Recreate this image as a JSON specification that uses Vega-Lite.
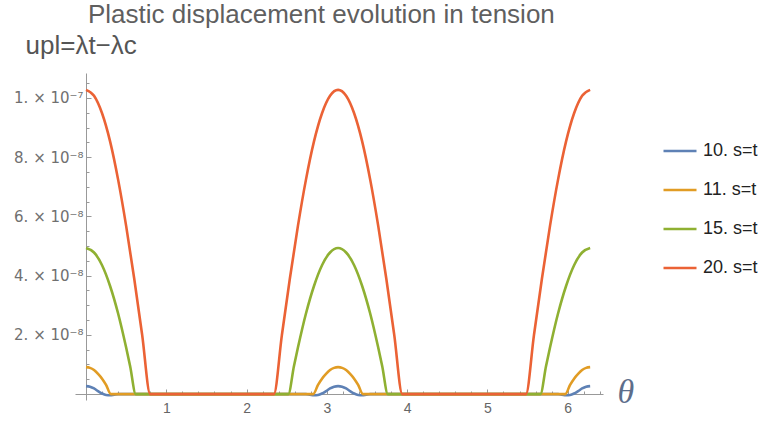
{
  "$schema": "https://vega.github.io/schema/vega-lite/v6.json",
  "width": 528,
  "height": 327,
  "autosize": "none",
  "padding": {"left": 75, "top": 73, "right": 174, "bottom": 23},
  "background": "white",
  "config": {"view": {"stroke": null}},
  "title": {
    "text": "Plastic displacement evolution in tension",
    "anchor": "start",
    "frame": "group",
    "dx": 13,
    "fontSize": 26,
    "font": "Liberation Sans",
    "fontWeight": "normal",
    "color": "#5f5f5f"
  },
  "data": {
    "values": [
      {"theta": 0, "upl": 2.7e-9, "s": "10. s=t"},
      {"theta": 0.05, "upl": 2.5e-9, "s": "10. s=t"},
      {"theta": 0.1, "upl": 1.9e-9, "s": "10. s=t"},
      {"theta": 0.15, "upl": 1.0e-9, "s": "10. s=t"},
      {"theta": 0.2, "upl": 2e-10, "s": "10. s=t"},
      {"theta": 0.25, "upl": -3e-10, "s": "10. s=t"},
      {"theta": 0.3, "upl": -4e-10, "s": "10. s=t"},
      {"theta": 0.35, "upl": -2e-10, "s": "10. s=t"},
      {"theta": 0.4, "upl": 0, "s": "10. s=t"},
      {"theta": 2.74, "upl": 0, "s": "10. s=t"},
      {"theta": 2.79, "upl": -2e-10, "s": "10. s=t"},
      {"theta": 2.84, "upl": -4e-10, "s": "10. s=t"},
      {"theta": 2.89, "upl": -3e-10, "s": "10. s=t"},
      {"theta": 2.94, "upl": 2e-10, "s": "10. s=t"},
      {"theta": 2.99, "upl": 1.0e-9, "s": "10. s=t"},
      {"theta": 3.04, "upl": 1.9e-9, "s": "10. s=t"},
      {"theta": 3.09, "upl": 2.5e-9, "s": "10. s=t"},
      {"theta": 3.14, "upl": 2.7e-9, "s": "10. s=t"},
      {"theta": 3.19, "upl": 2.5e-9, "s": "10. s=t"},
      {"theta": 3.24, "upl": 1.9e-9, "s": "10. s=t"},
      {"theta": 3.29, "upl": 1.0e-9, "s": "10. s=t"},
      {"theta": 3.34, "upl": 2e-10, "s": "10. s=t"},
      {"theta": 3.39, "upl": -3e-10, "s": "10. s=t"},
      {"theta": 3.44, "upl": -4e-10, "s": "10. s=t"},
      {"theta": 3.49, "upl": -2e-10, "s": "10. s=t"},
      {"theta": 3.54, "upl": 0, "s": "10. s=t"},
      {"theta": 5.88, "upl": 0, "s": "10. s=t"},
      {"theta": 5.93, "upl": -2e-10, "s": "10. s=t"},
      {"theta": 5.98, "upl": -4e-10, "s": "10. s=t"},
      {"theta": 6.03, "upl": -3e-10, "s": "10. s=t"},
      {"theta": 6.08, "upl": 2e-10, "s": "10. s=t"},
      {"theta": 6.13, "upl": 1.0e-9, "s": "10. s=t"},
      {"theta": 6.18, "upl": 1.9e-9, "s": "10. s=t"},
      {"theta": 6.23, "upl": 2.5e-9, "s": "10. s=t"},
      {"theta": 6.28, "upl": 2.7e-9, "s": "10. s=t"},

      {"theta": 0, "upl": 9.1e-9, "s": "11. s=t"},
      {"theta": 0.05, "upl": 8.85e-9, "s": "11. s=t"},
      {"theta": 0.1, "upl": 8.1e-9, "s": "11. s=t"},
      {"theta": 0.15, "upl": 6.8e-9, "s": "11. s=t"},
      {"theta": 0.2, "upl": 5.2e-9, "s": "11. s=t"},
      {"theta": 0.25, "upl": 3.1e-9, "s": "11. s=t"},
      {"theta": 0.31, "upl": 0, "s": "11. s=t"},
      {"theta": 2.83, "upl": 0, "s": "11. s=t"},
      {"theta": 2.89, "upl": 3.1e-9, "s": "11. s=t"},
      {"theta": 2.94, "upl": 5.2e-9, "s": "11. s=t"},
      {"theta": 2.99, "upl": 6.8e-9, "s": "11. s=t"},
      {"theta": 3.04, "upl": 8.1e-9, "s": "11. s=t"},
      {"theta": 3.09, "upl": 8.85e-9, "s": "11. s=t"},
      {"theta": 3.14, "upl": 9.1e-9, "s": "11. s=t"},
      {"theta": 3.19, "upl": 8.85e-9, "s": "11. s=t"},
      {"theta": 3.24, "upl": 8.1e-9, "s": "11. s=t"},
      {"theta": 3.29, "upl": 6.8e-9, "s": "11. s=t"},
      {"theta": 3.34, "upl": 5.2e-9, "s": "11. s=t"},
      {"theta": 3.39, "upl": 3.1e-9, "s": "11. s=t"},
      {"theta": 3.45, "upl": 0, "s": "11. s=t"},
      {"theta": 5.97, "upl": 0, "s": "11. s=t"},
      {"theta": 6.03, "upl": 3.1e-9, "s": "11. s=t"},
      {"theta": 6.08, "upl": 5.2e-9, "s": "11. s=t"},
      {"theta": 6.13, "upl": 6.8e-9, "s": "11. s=t"},
      {"theta": 6.18, "upl": 8.1e-9, "s": "11. s=t"},
      {"theta": 6.23, "upl": 8.85e-9, "s": "11. s=t"},
      {"theta": 6.28, "upl": 9.1e-9, "s": "11. s=t"},

      {"theta": 0, "upl": 4.93e-8, "s": "15. s=t"},
      {"theta": 0.1, "upl": 4.78e-8, "s": "15. s=t"},
      {"theta": 0.2, "upl": 4.35e-8, "s": "15. s=t"},
      {"theta": 0.3, "upl": 3.65e-8, "s": "15. s=t"},
      {"theta": 0.4, "upl": 2.72e-8, "s": "15. s=t"},
      {"theta": 0.5, "upl": 1.57e-8, "s": "15. s=t"},
      {"theta": 0.55, "upl": 9.4e-9, "s": "15. s=t"},
      {"theta": 0.62, "upl": 0, "s": "15. s=t"},
      {"theta": 2.52, "upl": 0, "s": "15. s=t"},
      {"theta": 2.59, "upl": 9.4e-9, "s": "15. s=t"},
      {"theta": 2.64, "upl": 1.57e-8, "s": "15. s=t"},
      {"theta": 2.74, "upl": 2.72e-8, "s": "15. s=t"},
      {"theta": 2.84, "upl": 3.65e-8, "s": "15. s=t"},
      {"theta": 2.94, "upl": 4.35e-8, "s": "15. s=t"},
      {"theta": 3.04, "upl": 4.78e-8, "s": "15. s=t"},
      {"theta": 3.14, "upl": 4.93e-8, "s": "15. s=t"},
      {"theta": 3.24, "upl": 4.78e-8, "s": "15. s=t"},
      {"theta": 3.34, "upl": 4.35e-8, "s": "15. s=t"},
      {"theta": 3.44, "upl": 3.65e-8, "s": "15. s=t"},
      {"theta": 3.54, "upl": 2.72e-8, "s": "15. s=t"},
      {"theta": 3.64, "upl": 1.57e-8, "s": "15. s=t"},
      {"theta": 3.69, "upl": 9.4e-9, "s": "15. s=t"},
      {"theta": 3.76, "upl": 0, "s": "15. s=t"},
      {"theta": 5.66, "upl": 0, "s": "15. s=t"},
      {"theta": 5.73, "upl": 9.4e-9, "s": "15. s=t"},
      {"theta": 5.78, "upl": 1.57e-8, "s": "15. s=t"},
      {"theta": 5.88, "upl": 2.72e-8, "s": "15. s=t"},
      {"theta": 5.98, "upl": 3.65e-8, "s": "15. s=t"},
      {"theta": 6.08, "upl": 4.35e-8, "s": "15. s=t"},
      {"theta": 6.18, "upl": 4.78e-8, "s": "15. s=t"},
      {"theta": 6.28, "upl": 4.93e-8, "s": "15. s=t"},

      {"theta": 0, "upl": 1.027e-7, "s": "20. s=t"},
      {"theta": 0.1, "upl": 1.007e-7, "s": "20. s=t"},
      {"theta": 0.2, "upl": 9.48e-8, "s": "20. s=t"},
      {"theta": 0.3, "upl": 8.53e-8, "s": "20. s=t"},
      {"theta": 0.4, "upl": 7.24e-8, "s": "20. s=t"},
      {"theta": 0.5, "upl": 5.68e-8, "s": "20. s=t"},
      {"theta": 0.6, "upl": 3.91e-8, "s": "20. s=t"},
      {"theta": 0.7, "upl": 1.99e-8, "s": "20. s=t"},
      {"theta": 0.8, "upl": 0, "s": "20. s=t"},
      {"theta": 2.34, "upl": 0, "s": "20. s=t"},
      {"theta": 2.44, "upl": 1.99e-8, "s": "20. s=t"},
      {"theta": 2.54, "upl": 3.91e-8, "s": "20. s=t"},
      {"theta": 2.64, "upl": 5.68e-8, "s": "20. s=t"},
      {"theta": 2.74, "upl": 7.24e-8, "s": "20. s=t"},
      {"theta": 2.84, "upl": 8.53e-8, "s": "20. s=t"},
      {"theta": 2.94, "upl": 9.48e-8, "s": "20. s=t"},
      {"theta": 3.04, "upl": 1.007e-7, "s": "20. s=t"},
      {"theta": 3.14, "upl": 1.027e-7, "s": "20. s=t"},
      {"theta": 3.24, "upl": 1.007e-7, "s": "20. s=t"},
      {"theta": 3.34, "upl": 9.48e-8, "s": "20. s=t"},
      {"theta": 3.44, "upl": 8.53e-8, "s": "20. s=t"},
      {"theta": 3.54, "upl": 7.24e-8, "s": "20. s=t"},
      {"theta": 3.64, "upl": 5.68e-8, "s": "20. s=t"},
      {"theta": 3.74, "upl": 3.91e-8, "s": "20. s=t"},
      {"theta": 3.84, "upl": 1.99e-8, "s": "20. s=t"},
      {"theta": 3.94, "upl": 0, "s": "20. s=t"},
      {"theta": 5.48, "upl": 0, "s": "20. s=t"},
      {"theta": 5.58, "upl": 1.99e-8, "s": "20. s=t"},
      {"theta": 5.68, "upl": 3.91e-8, "s": "20. s=t"},
      {"theta": 5.78, "upl": 5.68e-8, "s": "20. s=t"},
      {"theta": 5.88, "upl": 7.24e-8, "s": "20. s=t"},
      {"theta": 5.98, "upl": 8.53e-8, "s": "20. s=t"},
      {"theta": 6.08, "upl": 9.48e-8, "s": "20. s=t"},
      {"theta": 6.18, "upl": 1.007e-7, "s": "20. s=t"},
      {"theta": 6.28, "upl": 1.027e-7, "s": "20. s=t"}
    ]
  },
  "mark": {"type": "line", "interpolate": "monotone", "strokeWidth": 2.6, "clip": false},
  "encoding": {
    "x": {
      "field": "theta",
      "type": "quantitative",
      "scale": {"domain": [-0.137, 6.44], "nice": false, "zero": false},
      "axis": {
        "orient": "bottom",
        "offset": -6,
        "grid": false,
        "values": [0.2, 0.4, 0.6, 0.8, 1, 1.2, 1.4, 1.6, 1.8, 2, 2.2, 2.4, 2.6, 2.8, 3, 3.2, 3.4, 3.6, 3.8, 4, 4.2, 4.4, 4.6, 4.8, 5, 5.2, 5.4, 5.6, 5.8, 6, 6.2, 6.4],
        "labelExpr": "abs(datum.value - round(datum.value)) < 0.001 ? format(round(datum.value), 'd') : ''",
        "labelFlush": false,
        "labelOverlap": false,
        "tickSize": {"condition": {"test": "abs(datum.value - round(datum.value)) < 0.001", "value": -5}, "value": -3},
        "domainColor": "#999999",
        "tickColor": "#999999",
        "labelColor": "#666666",
        "labelFont": "Liberation Sans",
        "labelFontSize": 14,
        "labelPadding": 12,
        "title": "θ",
        "titleX": 542,
        "titleY": -2,
        "titleAlign": "left",
        "titleBaseline": "middle",
        "titleFont": "Liberation Serif",
        "titleFontStyle": "italic",
        "titleFontWeight": "normal",
        "titleFontSize": 34,
        "titleColor": "#5d6e8b"
      }
    },
    "y": {
      "field": "upl",
      "type": "quantitative",
      "scale": {"domain": [-2e-9, 1.084e-7], "nice": false, "zero": false},
      "axis": {
        "orient": "left",
        "offset": -11,
        "grid": false,
        "values": [5e-9, 1e-8, 1.5e-8, 2e-8, 2.5e-8, 3e-8, 3.5e-8, 4e-8, 4.5e-8, 5e-8, 5.5e-8, 6e-8, 6.5e-8, 7e-8, 7.5e-8, 8e-8, 8.5e-8, 9e-8, 9.5e-8, 1e-7, 1.05e-7],
        "labelExpr": "abs(datum.value * 5e7 - round(datum.value * 5e7)) < 0.01 ? (datum.value > 9e-8 ? '1. × 10⁻⁷' : format(round(datum.value * 1e8), 'd') + '. × 10⁻⁸') : ''",
        "labelOverlap": false,
        "tickSize": {"condition": {"test": "abs(datum.value * 5e7 - round(datum.value * 5e7)) < 0.01", "value": -5}, "value": -3},
        "domainColor": "#999999",
        "tickColor": "#999999",
        "labelColor": "#707070",
        "labelFont": "DejaVu Sans",
        "labelFontSize": 15,
        "labelPadding": 8,
        "title": "upl=λt−λc",
        "titleAngle": 0,
        "titleAlign": "left",
        "titleBaseline": "alphabetic",
        "titleX": -61,
        "titleY": -20,
        "titleFont": "Liberation Sans",
        "titleFontWeight": "normal",
        "titleFontSize": 26,
        "titleColor": "#555555"
      }
    },
    "color": {
      "field": "s",
      "type": "nominal",
      "scale": {"domain": ["10. s=t", "11. s=t", "15. s=t", "20. s=t"], "range": ["#5E81B5", "#E19C24", "#8FB032", "#EB6235"]},
      "legend": {
        "title": null,
        "orient": "none",
        "legendX": 587,
        "legendY": 60,
        "padding": 0,
        "symbolType": "stroke",
        "symbolSize": 1089,
        "symbolStrokeWidth": 2.5,
        "labelFont": "Liberation Sans",
        "labelFontSize": 18,
        "labelColor": "#222222",
        "labelOffset": 5,
        "rowPadding": 12
      }
    }
  }
}
